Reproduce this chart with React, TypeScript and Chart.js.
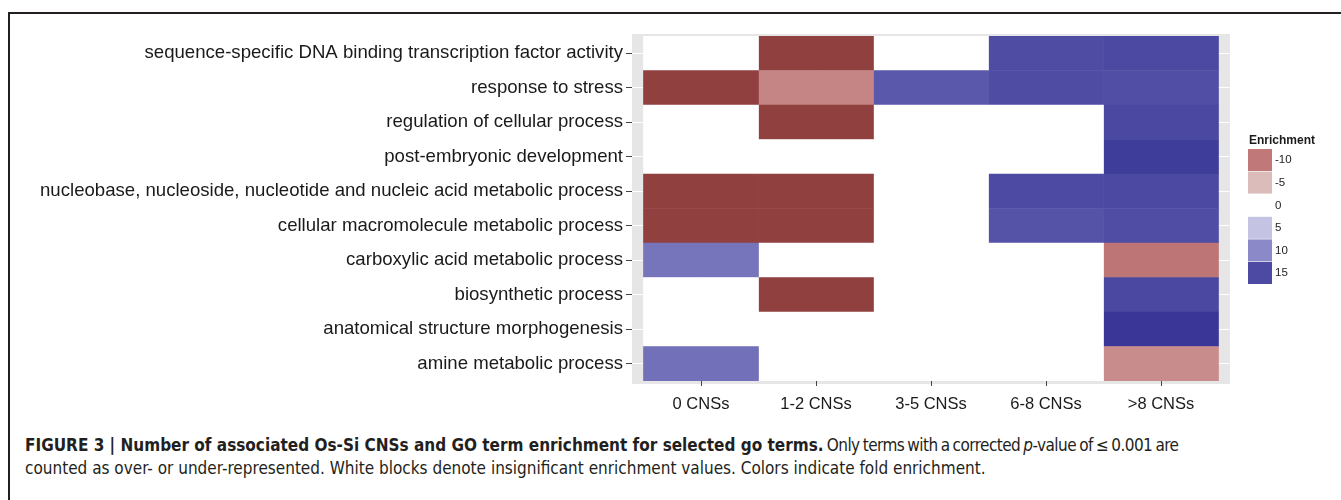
import React, { useEffect, useRef } from "react";
import { Chart, registerables } from "chart.js";

Chart.register(...registerables);

document.body.style.margin = "0";
document.body.style.overflow = "hidden";

// GO terms (rows, top to bottom)
const terms = [
  "sequence-specific DNA binding transcription factor activity",
  "response to stress",
  "regulation of cellular process",
  "post-embryonic development",
  "nucleobase, nucleoside, nucleotide and nucleic acid metabolic process",
  "cellular macromolecule metabolic process",
  "carboxylic acid metabolic process",
  "biosynthetic process",
  "anatomical structure morphogenesis",
  "amine metabolic process",
];

// CNS count bins (columns)
const columns = ["0 CNSs", "1-2 CNSs", "3-5 CNSs", "6-8 CNSs", ">8 CNSs"];

// fold enrichment per column (null = insignificant, white block)
const cns0 = [null, -19, null, null, -19, -19, 11.7, null, null, 12];
const cns1to2 = [-19, -9, -19, null, -19, -19, null, -19, null, null];
const cns3to5 = [null, 13.9, null, null, null, null, null, null, null, null];
const cns6to8 = [14.8, 14.8, null, null, 15, 14.3, null, null, null, null];
const cnsOver8 = [15.3, 14.6, 15.5, 17.9, 15.3, 14.7, -10.5, 15.5, 19.3, -8.5];

// legend
const legendTitle = "Enrichment";
const legendValues = [-10, -5, 0, 5, 10, 15];

const caption1Bold =
  "FIGURE 3 | Number of associated Os-Si CNSs and GO term enrichment for selected go terms.";
const caption1Rest = " Only terms with a corrected ";
const caption1Tail = "-value of \u2264 0.001 are";
const caption2 =
  "counted as over- or under-represented. White blocks denote insignificant enrichment values. Colors indicate fold enrichment.";

const columnValues = [cns0, cns1to2, cns3to5, cns6to8, cnsOver8];

const colorStops: [number, number[]][] = [
  [-20, [140, 58, 58]],
  [-10, [192, 120, 120]],
  [-5, [220, 187, 187]],
  [0, [255, 255, 255]],
  [5, [196, 195, 227]],
  [10, [139, 137, 199]],
  [15, [76, 74, 162]],
  [20, [54, 51, 149]],
];

function colorFor(v: number | null): string {
  if (v == null) return "#ffffff";
  const x = Math.max(-20, Math.min(20, v));
  for (let i = 0; i < colorStops.length - 1; i++) {
    const [a, ca] = colorStops[i];
    const [b, cb] = colorStops[i + 1];
    if (x >= a && x <= b) {
      const t = (x - a) / (b - a);
      const c = ca.map((q, k) => Math.round(q + (cb[k] - q) * t));
      return `rgb(${c[0]},${c[1]},${c[2]})`;
    }
  }
  return "#ffffff";
}

const SANS = "'Liberation Sans', Arial, Helvetica, sans-serif";

const panelPlugin = {
  id: "panelBg",
  beforeDraw(chart: any) {
    const { ctx, chartArea } = chart;
    ctx.save();
    ctx.fillStyle = "#e6e6e6";
    ctx.fillRect(chartArea.left, chartArea.top - 2, chartArea.right - chartArea.left, chartArea.bottom - chartArea.top + 5);
    ctx.restore();
  },
  afterDraw(chart: any) {
    const { ctx, chartArea } = chart;
    const x0 = chartArea.right + 18;
    ctx.save();
    ctx.fillStyle = "#1a1a1a";
    ctx.font = `bold 12px ${SANS}`;
    ctx.textBaseline = "alphabetic";
    ctx.textAlign = "left";
    ctx.fillText(legendTitle, x0 + 1, chartArea.top + 108);
    const top = chartArea.top + 113;
    const h = 22.6;
    legendValues.forEach((v, i) => {
      const y = top + i * h;
      ctx.fillStyle = colorFor(v);
      ctx.fillRect(x0, y, 24, h - 0.6);
      ctx.fillStyle = "#222";
      ctx.font = `11.5px ${SANS}`;
      ctx.textBaseline = "middle";
      ctx.fillText(String(v), x0 + 27, y + h / 2);
    });
    ctx.restore();
  },
};

function HeatChart() {
  const ref = useRef<HTMLCanvasElement>(null);
  useEffect(() => {
    if (!ref.current) return;
    const chart = new Chart(ref.current, {
      type: "bar",
      data: {
        labels: terms,
        datasets: columnValues.map((vals, c) => ({
          label: columns[c],
          data: vals.map(() => [c, c + 1]) as any,
          backgroundColor: vals.map((v) => colorFor(v)),
          borderWidth: 0,
          grouped: false,
          barPercentage: 1,
          categoryPercentage: 1,
        })),
      },
      options: {
        indexAxis: "y",
        responsive: false,
        animation: false,
        layout: { padding: { top: 22, right: 111, left: 0, bottom: 0 } },
        plugins: { legend: { display: false }, tooltip: { enabled: false } },
        scales: {
          x: {
            type: "linear",
            min: -0.1,
            max: 5.1,
            afterBuildTicks: (scale: any) => {
              scale.ticks = columns.map((_, i) => ({ value: i + 0.5 }));
            },
            afterFit: (scale: any) => {
              scale.height = 43;
            },
            ticks: {
              callback: (value: any) => columns[Math.floor(Number(value))],
              color: "#1a1a1a",
              font: { family: SANS, size: 16.5 },
              padding: 9,
              maxRotation: 0,
            },
            grid: { color: "#ffffff", lineWidth: 1, tickColor: "#444", tickLength: 5 },
            border: { display: false },
          },
          y: {
            type: "category",
            afterFit: (scale: any) => {
              scale.width = 595;
            },
            ticks: {
              color: "#1a1a1a",
              font: { family: SANS, size: 18.6 },
              padding: 3,
              autoSkip: false,
            },
            grid: { color: "#ffffff", lineWidth: 1, tickColor: "#444", tickLength: 6, offset: false },
            border: { display: false },
          },
        },
      },
      plugins: [panelPlugin],
    });
    return () => chart.destroy();
  }, []);
  return (
    <canvas
      ref={ref}
      width={1304}
      height={410}
      style={{ position: "absolute", left: 37, top: 14, width: 1304, height: 410 }}
    />
  );
}

export default function App() {
  const capFont = "'Liberation Sans Narrow', 'Arial Narrow', 'DejaVu Sans Condensed', sans-serif";
  return (
    <div style={{ position: "relative", width: 1341, height: 500, overflow: "hidden", background: "#fff" }}>
      <div
        style={{
          position: "absolute",
          left: 8,
          top: 12,
          width: 1400,
          height: 600,
          borderTop: "2px solid #231f20",
          borderLeft: "2px solid #231f20",
        }}
      />
      <HeatChart />
      <div
        style={{
          position: "absolute",
          left: 25,
          top: 434,
          fontFamily: capFont,
          fontSize: 17,
          lineHeight: "23px",
          color: "#231f20",
          whiteSpace: "nowrap",
        }}
      >
        <div>
          <b>{caption1Bold}</b>
          <span style={{ letterSpacing: "-0.55px", wordSpacing: "-1.2px" }}>
            {caption1Rest}
            <i>p</i>
            {caption1Tail}
          </span>
        </div>
        <div>{caption2}</div>
      </div>
    </div>
  );
}
